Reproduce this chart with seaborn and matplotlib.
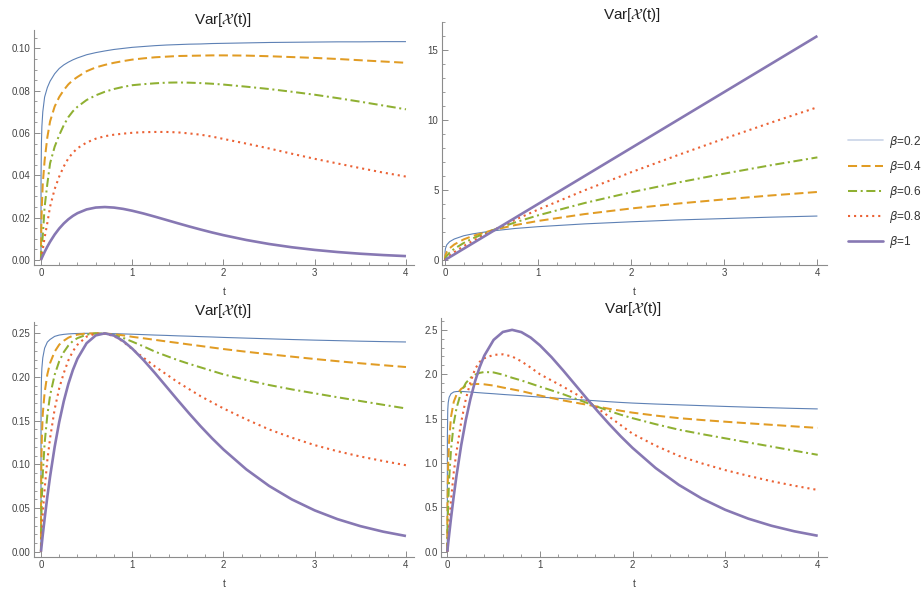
import numpy as np
import pandas as pd
import matplotlib
matplotlib.use("Agg")
import matplotlib.pyplot as plt
from matplotlib.ticker import MultipleLocator, FormatStrFormatter
from matplotlib.lines import Line2D
import seaborn as sns

# ---------------- data ----------------
betas = ["0.2", "0.4", "0.6", "0.8", "1"]
legend_labels = [r"$\beta$=0.2", r"$\beta$=0.4", r"$\beta$=0.6", r"$\beta$=0.8", r"$\beta$=1"]
title_text = r"Var[$\mathcal{X}$(t)]"
x_label = "t"

# time grid shared by the top-left and both bottom panels
t_grid = [0, 0.001, 0.005, 0.01, 0.02, 0.04, 0.07, 0.1, 0.15, 0.2, 0.25, 0.3, 0.35, 0.4, 0.5,
          0.6, 0.7, 0.8, 0.9, 1.0, 1.125, 1.25, 1.375, 1.5, 1.625, 1.75, 1.875, 2.0, 2.25, 2.5,
          2.75, 3.0, 3.25, 3.5, 3.75, 4.0]

# top-left panel
tl_b02 = [0, 0.040, 0.055, 0.063, 0.070, 0.077, 0.0815, 0.0845, 0.088, 0.0905, 0.0922, 0.0935,
          0.0946, 0.0955, 0.097, 0.098, 0.0988, 0.0995, 0.1, 0.1005, 0.1009, 0.1013, 0.1016, 0.1018,
          0.102, 0.1021, 0.1023, 0.1024, 0.1026, 0.1028, 0.1029, 0.103, 0.1031, 0.1031, 0.1032, 0.1032]
tl_b04 = [0, 0.008, 0.018, 0.026, 0.036, 0.047, 0.058, 0.0655, 0.0725, 0.077, 0.0803, 0.083,
          0.085, 0.0865, 0.0892, 0.091, 0.0922, 0.0932, 0.094, 0.0947, 0.0953, 0.0958, 0.0961, 0.0964,
          0.0965, 0.0966, 0.0967, 0.0967, 0.0966, 0.0963, 0.0959, 0.0955, 0.095, 0.0944, 0.0938, 0.0932]
tl_b06 = [0, 0.0012, 0.004, 0.007, 0.0115, 0.025, 0.036, 0.0457, 0.0535, 0.059, 0.0637, 0.0675,
          0.0703, 0.0724, 0.0756, 0.0778, 0.0795, 0.0808, 0.0818, 0.0826, 0.0831, 0.0835, 0.0838,
          0.0839, 0.0838, 0.0836, 0.0833, 0.0829, 0.0819, 0.0808, 0.0795, 0.0781, 0.0765, 0.0748,
          0.073, 0.0712]
tl_b08 = [0, 0.0003, 0.0013, 0.0026, 0.005, 0.0105, 0.0175, 0.0252, 0.0335, 0.0394, 0.0442, 0.048,
          0.0507, 0.0528, 0.0555, 0.0573, 0.0585, 0.0592, 0.0597, 0.0601, 0.0604, 0.0605, 0.0605,
          0.0603, 0.0598, 0.0592, 0.0583, 0.0572, 0.055, 0.0527, 0.0502, 0.0478, 0.0456, 0.0434,
          0.0413, 0.0394]
tl_b10 = [0, 0.0001, 0.0005, 0.00099, 0.00194, 0.00377, 0.0063, 0.00861, 0.01199, 0.01484,
          0.01723, 0.0192, 0.02081, 0.0221, 0.02387, 0.02476, 0.025, 0.02474, 0.02413, 0.02325,
          0.02193, 0.02044, 0.01889, 0.01733, 0.01581, 0.01436, 0.01298, 0.0117, 0.00943, 0.00753,
          0.00598, 0.00473, 0.00373, 0.00293, 0.0023, 0.0018]

# top-right panel
t_tr = [0, 0.001, 0.005, 0.02, 0.05, 0.1, 0.2, 0.3, 0.5, 0.75, 1, 1.5, 2, 2.5, 3, 3.5, 4]
tr_b02 = [0, 0.60, 0.82, 1.09, 1.31, 1.50, 1.73, 1.87, 2.07, 2.25, 2.38, 2.58, 2.73, 2.86, 2.96, 3.06, 3.14]
tr_b04 = [0, 0.18, 0.34, 0.58, 0.84, 1.11, 1.47, 1.72, 2.11, 2.49, 2.79, 3.28, 3.68, 4.03, 4.33, 4.61, 4.86]
tr_b06 = [0, 0.05, 0.13, 0.30, 0.53, 0.80, 1.21, 1.55, 2.10, 2.68, 3.19, 4.07, 4.84, 5.53, 6.17, 6.77, 7.33]
tr_b08 = [0, 0.014, 0.05, 0.16, 0.33, 0.57, 0.99, 1.37, 2.07, 2.86, 3.60, 4.98, 6.27, 7.49, 8.67, 9.81, 10.91]
tr_b10 = [0, 0.004, 0.02, 0.08, 0.2, 0.4, 0.8, 1.2, 2.0, 3.0, 4.0, 6.0, 8.0, 10.0, 12.0, 14.0, 16.0]

# bottom-left panel
bl_b02 = [0, 0.17, 0.197, 0.21, 0.222, 0.233, 0.240, 0.243, 0.2465, 0.248, 0.2488, 0.2493, 0.2496,
          0.2498, 0.25, 0.25, 0.2499, 0.2496, 0.2493, 0.249, 0.2485, 0.248, 0.2476, 0.2471, 0.2467,
          0.2462, 0.2458, 0.2453, 0.2445, 0.2437, 0.2429, 0.2422, 0.2416, 0.241, 0.2405, 0.2401]
bl_b04 = [0, 0.0625, 0.105, 0.131, 0.158, 0.182, 0.203, 0.216, 0.229, 0.237, 0.2415, 0.245, 0.2472,
          0.2485, 0.2498, 0.25, 0.2497, 0.249, 0.2477, 0.246, 0.2443, 0.2425, 0.2407, 0.239, 0.2372,
          0.2355, 0.2337, 0.232, 0.2289, 0.226, 0.2233, 0.2206, 0.2181, 0.2157, 0.2135, 0.2114]
bl_b06 = [0, 0.0174, 0.043, 0.0625, 0.0894, 0.124, 0.1564, 0.179, 0.2025, 0.218, 0.2285, 0.236,
          0.2412, 0.2445, 0.2485, 0.2499, 0.2497, 0.248, 0.2448, 0.2405, 0.235, 0.229, 0.2241,
          0.2193, 0.215, 0.211, 0.207, 0.203, 0.1966, 0.1908, 0.1858, 0.1813, 0.1768, 0.1725,
          0.1682, 0.164]
bl_b08 = [0, 0.0043, 0.0152, 0.0258, 0.0435, 0.0716, 0.1048, 0.130, 0.1631, 0.1871, 0.2045, 0.219,
          0.2295, 0.237, 0.2462, 0.2497, 0.2495, 0.247, 0.2405, 0.232, 0.222, 0.212, 0.203, 0.194,
          0.186, 0.178, 0.171, 0.164, 0.1515, 0.140, 0.1305, 0.122, 0.115, 0.109, 0.1038, 0.099]
bl_b10 = [0, 0.001, 0.00497, 0.00985, 0.01941, 0.03767, 0.06304, 0.08611, 0.11989, 0.14843,
          0.17227, 0.19201, 0.2081, 0.22099, 0.23865, 0.24762, 0.24998, 0.24743, 0.24128, 0.23254,
          0.21927, 0.20442, 0.18889, 0.17334, 0.15814, 0.14357, 0.12983, 0.11702, 0.09429, 0.07534,
          0.05984, 0.04731, 0.03727, 0.02929, 0.02296, 0.01799]

# bottom-right panel
br_b02 = [0, 1.3, 1.6, 1.68, 1.74, 1.78, 1.80, 1.805, 1.806, 1.803, 1.799, 1.795, 1.791, 1.787,
          1.78, 1.772, 1.765, 1.758, 1.75, 1.742, 1.734, 1.725, 1.716, 1.708, 1.699, 1.69, 1.682,
          1.675, 1.664, 1.655, 1.646, 1.637, 1.629, 1.622, 1.615, 1.609]
br_b04 = [0, 0.45, 0.75, 1.0, 1.25, 1.52, 1.69, 1.77, 1.835, 1.868, 1.883, 1.89, 1.89, 1.886,
          1.872, 1.85, 1.83, 1.81, 1.785, 1.76, 1.732, 1.705, 1.681, 1.658, 1.634, 1.61, 1.588,
          1.567, 1.534, 1.505, 1.484, 1.465, 1.447, 1.43, 1.412, 1.395]
br_b06 = [0, 0.15, 0.35, 0.55, 0.82, 1.15, 1.45, 1.62, 1.8, 1.9, 1.96, 1.995, 2.015, 2.025, 2.02,
          1.995, 1.96, 1.93, 1.895, 1.86, 1.818, 1.775, 1.728, 1.68, 1.632, 1.585, 1.543, 1.505,
          1.437, 1.375, 1.325, 1.278, 1.231, 1.185, 1.138, 1.092]
br_b08 = [0, 0.03, 0.1, 0.17, 0.31, 0.58, 0.9, 1.13, 1.46, 1.72, 1.91, 2.06, 2.14, 2.18, 2.218,
          2.224, 2.2, 2.145, 2.075, 2.0, 1.93, 1.86, 1.785, 1.71, 1.615, 1.52, 1.425, 1.33, 1.195,
          1.08, 0.995, 0.92, 0.855, 0.795, 0.743, 0.696]
br_b10 = [0, 0.01, 0.0497, 0.0985, 0.1941, 0.3767, 0.6304, 0.8611, 1.1989, 1.4843, 1.7227, 1.9201,
          2.081, 2.2099, 2.3865, 2.4762, 2.4998, 2.4743, 2.4128, 2.3254, 2.1927, 2.0442, 1.8889,
          1.7334, 1.5814, 1.4357, 1.2983, 1.1702, 0.9429, 0.7534, 0.5984, 0.4731, 0.3727, 0.2929,
          0.2296, 0.1799]

# ---------------- styling ----------------
sns.set_style("white")
plt.rcParams["font.family"] = ["Liberation Sans", "DejaVu Sans"]
plt.rcParams["mathtext.fontset"] = "dejavusans"

colors = ["#5E81B5", "#E19C24", "#8FB032", "#EB6235", "#8778B3"]
widths = [0.8, 1.45, 1.45, 1.5, 1.9]
dash_list = [None, (4.5, 2.2), (4.5, 1.8, 1.0, 1.8), (1.0, 1.9), None]
AX_COL = "#8c8c8c"
LAB_COL = "#444444"

W, H = 923, 590
fig = plt.figure(figsize=(W / 100, H / 100), dpi=100)


def make_axes(l, r, top, bot):
    return fig.add_axes([l / W, 1 - bot / H, (r - l) / W, (bot - top) / H])


def draw_panel(ax, t, series, xlim, ylim, ymajor, yminor, yfmt):
    df = pd.DataFrame({"t": np.tile(np.asarray(t, float), len(series)),
                       "v": np.concatenate([np.asarray(s, float) for s in series]),
                       "beta": np.repeat(betas, len(t))})
    for i, b in enumerate(betas):
        sub = df[df["beta"] == b]
        sns.lineplot(data=sub, x="t", y="v", ax=ax, color=colors[i], linewidth=widths[i],
                     sort=False, estimator=None, legend=False, zorder=2 + i)
        ln = ax.lines[-1]
        if dash_list[i] is not None:
            ln.set_dashes(dash_list[i])
        ln.set_solid_capstyle("butt")
        ln.set_solid_joinstyle("round")
    ax.set_xlim(*xlim)
    ax.set_ylim(*ylim)
    for s in ["top", "right"]:
        ax.spines[s].set_visible(False)
    for s in ["left", "bottom"]:
        ax.spines[s].set_color(AX_COL)
        ax.spines[s].set_linewidth(0.8)
    ax.xaxis.set_major_locator(MultipleLocator(1))
    ax.xaxis.set_minor_locator(MultipleLocator(0.2))
    ax.yaxis.set_major_locator(MultipleLocator(ymajor))
    ax.yaxis.set_minor_locator(MultipleLocator(yminor))
    ax.yaxis.set_major_formatter(FormatStrFormatter(yfmt))
    ax.xaxis.set_major_formatter(FormatStrFormatter("%d"))
    ax.tick_params(which="both", bottom=True, left=True, top=False, right=False)
    ax.tick_params(which="major", direction="in", length=4, width=0.7, color=AX_COL,
                   labelsize=7, labelcolor=LAB_COL, pad=2.5)
    ax.tick_params(which="minor", direction="in", length=2.2, width=0.6, color=AX_COL)
    ax.set_xlabel(x_label, fontsize=7.5, color=LAB_COL, labelpad=6)
    ax.set_ylabel("")
    ax.patch.set_alpha(0)


ax1 = make_axes(34.3, 414, 30, 265)
draw_panel(ax1, t_grid, [tl_b02, tl_b04, tl_b06, tl_b08, tl_b10],
           (-0.073, 4.088), (-0.0024, 0.1087), 0.02, 0.005, "%.2f")

ax2 = make_axes(442, 826.7, 22, 265)
draw_panel(ax2, t_tr, [tr_b02, tr_b04, tr_b06, tr_b08, tr_b10],
           (-0.032, 4.1), (-0.357, 17.0), 5, 1, "%d")

ax3 = make_axes(34.3, 414, 321.7, 556.7)
draw_panel(ax3, t_grid, [bl_b02, bl_b04, bl_b06, bl_b08, bl_b10],
           (-0.073, 4.088), (-0.0057, 0.2633), 0.05, 0.01, "%.2f")

ax4 = make_axes(441, 826.7, 318.3, 556.7)
draw_panel(ax4, t_grid, [br_b02, br_b04, br_b06, br_b08, br_b10],
           (-0.068, 4.097), (-0.056, 2.63), 0.5, 0.1, "%.1f")

# titles
for (cx, cy) in [(223, 20), (632, 15), (223, 311), (633, 309)]:
    fig.text(cx / W, 1 - cy / H, title_text, ha="center", va="center", fontsize=11, color="#222222")

# legend
handles = []
for i in range(len(betas)):
    c = colors[i] if i > 0 else "#c9d4e8"
    h = Line2D([0], [0], color=c, linewidth=widths[i] + (0.4 if i == 0 else 0))
    if dash_list[i] is not None:
        h.set_dashes(dash_list[i])
    handles.append(h)
fig.legend(handles, legend_labels, loc="center left", bbox_to_anchor=(843 / W, 1 - 192 / H),
           frameon=False, fontsize=8.5, handlelength=3.0, handletextpad=0.5,
           labelspacing=0.78, borderaxespad=0, labelcolor="#333333")

fig.savefig("out.png", dpi=100)
